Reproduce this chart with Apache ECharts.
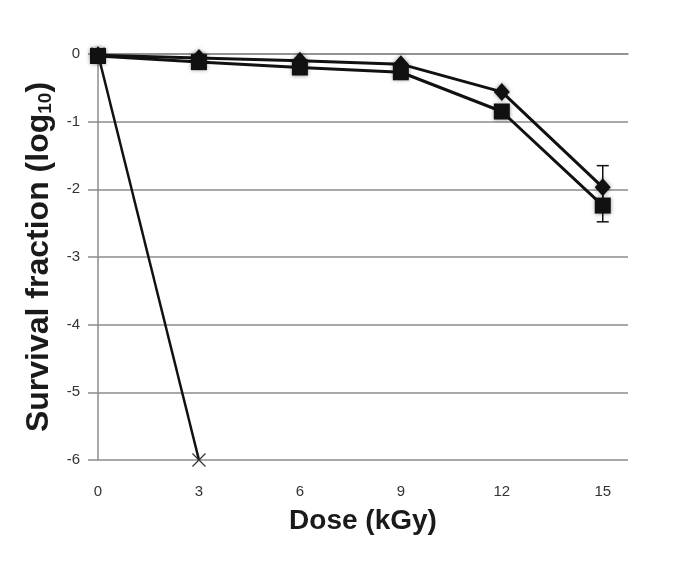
<!DOCTYPE html>
<html><head><meta charset="utf-8">
<script src="https://cdn.jsdelivr.net/npm/echarts@6/dist/echarts.min.js"></script>
<style>html,body{margin:0;padding:0;background:#fff}#c{width:673px;height:569px}</style>
</head><body><div id="c"></div>
<script>
const doses = [0, 3, 6, 9, 12, 15];
const diamondVals = [-0.02, -0.06, -0.1, -0.15, -0.56, -1.97];
const squareVals = [-0.03, -0.12, -0.2, -0.27, -0.85, -2.24];
const crossDoses = [0, 3];
const crossVals = [0, -6];
const diamondErr = [0, 0, 0, 0, 0, 0.32];
const squareErr = [0, 0, 0, 0, 0.1, 0.24];
const yTicks = [0, -1, -2, -3, -4, -5, -6];

const pairs = (xs, ys) => xs.map((x, i) => [x, ys[i]]);
const errData = [];
doses.forEach((d, i) => {
  if (diamondErr[i] > 0) errData.push([d, diamondVals[i], diamondErr[i]]);
  if (squareErr[i] > 0) errData.push([d, squareVals[i], squareErr[i]]);
});

const font = 'Liberation Sans, DejaVu Sans, sans-serif';
const chart = echarts.init(document.getElementById('c'));
chart.setOption({
  animation: false,
  backgroundColor: '#fff',
  grid: { left: 98, right: 45, top: 54, bottom: 109 },
  xAxis: {
    type: 'value', min: 0, max: 15.75, interval: 3,
    name: 'Dose (kGy)', nameLocation: 'middle', nameGap: 47,
    nameTextStyle: { fontSize: 28, fontWeight: 'bold', color: '#1a1a1a', fontFamily: font },
    axisLine: { show: true, lineStyle: { color: '#8c8c8c', width: 1.5 } },
    axisTick: { show: false },
    splitLine: { show: false },
    axisLabel: { margin: 24, fontSize: 15, color: '#333', fontFamily: font, showMaxLabel: false,
      formatter: v => (v % 3 === 0 ? String(v) : '') }
  },
  yAxis: {
    type: 'value', min: -6, max: 0, interval: 1,
    name: '{a|Survival fraction (log}{b|10}{a|)}', nameLocation: 'middle', nameGap: 36,
    nameTextStyle: { rich: {
      a: { fontSize: 32, fontWeight: 'bold', color: '#1a1a1a', fontFamily: font },
      b: { fontSize: 19, fontWeight: 'bold', color: '#1a1a1a', fontFamily: font, verticalAlign: 'bottom', padding: [14, 0, 0, 0] }
    } },
    axisLine: { show: true, lineStyle: { color: '#8c8c8c', width: 1.5 } },
    axisTick: { show: true, length: 10, lineStyle: { color: '#8c8c8c', width: 1.5 } },
    splitLine: { show: true, lineStyle: { color: '#8c8c8c', width: 1.5 } },
    axisLabel: { margin: 18, fontSize: 15, color: '#333', fontFamily: font,
      formatter: v => (yTicks.indexOf(v) >= 0 ? String(v) : '') }
  },
  series: [
    {
      type: 'line', data: pairs(crossDoses, crossVals),
      symbol: 'path://M0,0L10,10M10,0L0,10', symbolSize: 13,
      lineStyle: { color: '#111', width: 2.5 },
      itemStyle: { color: 'none', borderColor: '#333', borderWidth: 1.2 },
      z: 2
    },
    {
      type: 'custom', data: errData,
      renderItem: (params, api) => {
        const x = api.value(0), y = api.value(1), e = api.value(2);
        const top = api.coord([x, y + e]);
        const bot = api.coord([x, y - e]);
        const w = 6;
        const st = { stroke: '#111', lineWidth: 1.5 };
        return { type: 'group', children: [
          { type: 'line', shape: { x1: top[0], y1: top[1], x2: bot[0], y2: bot[1] }, style: st },
          { type: 'line', shape: { x1: top[0] - w, y1: top[1], x2: top[0] + w, y2: top[1] }, style: st },
          { type: 'line', shape: { x1: bot[0] - w, y1: bot[1], x2: bot[0] + w, y2: bot[1] }, style: st }
        ] };
      },
      z: 3
    },
    {
      type: 'line', data: pairs(doses, diamondVals),
      symbol: 'diamond', symbolSize: [16, 18],
      lineStyle: { color: '#111', width: 3 },
      itemStyle: { color: '#111', shadowBlur: 4, shadowColor: 'rgba(0,0,0,0.4)' },
      z: 4
    },
    {
      type: 'line', data: pairs(doses, squareVals),
      symbol: 'rect', symbolSize: 16,
      lineStyle: { color: '#111', width: 3 },
      itemStyle: { color: '#111', shadowBlur: 4, shadowColor: 'rgba(0,0,0,0.4)' },
      z: 5
    }
  ]
});
</script></body></html>
